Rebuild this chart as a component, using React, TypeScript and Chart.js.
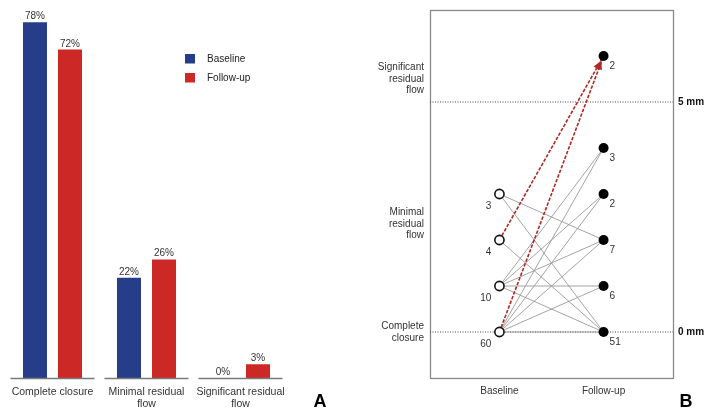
import React, { useEffect, useRef } from "react";
import { Chart, registerables } from "chart.js";

Chart.register(...registerables);

const FONT = "'Liberation Sans', Arial, Helvetica, sans-serif";

// ---------- Panel A data ----------
const categoryLines = [["Complete closure"], ["Minimal residual", "flow"], ["Significant residual", "flow"]];
const seriesNames = ["Baseline", "Follow-up"];
const baselinePct = [78, 22, 0];
const followUpPct = [72, 26, 3];
const seriesColors = ["#263e8a", "#cc2926"];

// ---------- Panel B data ----------
const levelLabels = [["Complete", "closure"], ["Minimal", "residual", "flow"], ["Significant", "residual", "flow"]];
const levelTickPos = [0, 2.35, 5.5];
const mmTicks = [0, 5];
const mmLabels = ["0 mm", "5 mm"];
const timeLabels = ["Baseline", "Follow-up"];
const timeX = [2, 5];
const baselineLevels = [3, 2, 1, 0];
const baselineCounts = [3, 4, 10, 60];
const followUpLevels = [6, 4, 3, 2, 1, 0];
const followUpCounts = [2, 3, 2, 7, 6, 51];
// [baseline level, follow-up level]
const transitions = [
  [3, 2], [3, 0], [2, 0],
  [1, 4], [1, 3], [1, 2], [1, 1], [1, 0],
  [0, 4], [0, 3], [0, 2], [0, 1], [0, 0],
];
const toSignificant = [[2, 6], [0, 6]];

const panelAPlugin = {
  id: "panelA",
  afterDatasetsDraw(chart: any) {
    const ctx = chart.ctx;
    const area = chart.chartArea;
    const xs = chart.scales.x;
    ctx.save();
    // separate baseline segments per category
    ctx.strokeStyle = "#7a7a7a";
    ctx.lineWidth = 1.3;
    categoryLines.forEach((_, i) => {
      const cx = xs.getPixelForValue(i);
      ctx.beginPath();
      ctx.moveTo(cx - 42, area.bottom + 0.5);
      ctx.lineTo(cx + 42, area.bottom + 0.5);
      ctx.stroke();
    });
    // value labels
    ctx.fillStyle = "#333";
    ctx.font = `10px ${FONT}`;
    ctx.textAlign = "center";
    ctx.textBaseline = "alphabetic";
    chart.data.datasets.forEach((ds: any, di: number) => {
      const meta = chart.getDatasetMeta(di);
      meta.data.forEach((el: any, j: number) => {
        ctx.fillText(`${ds.data[j]}%`, el.x, el.y - 3);
      });
    });
    // legend
    ctx.textAlign = "left";
    ctx.textBaseline = "middle";
    ctx.font = `10px ${FONT}`;
    chart.data.datasets.forEach((ds: any, di: number) => {
      const y = 54 + di * 19;
      ctx.fillStyle = ds.backgroundColor;
      ctx.fillRect(185, y, 10, 9.5);
      ctx.fillStyle = "#222";
      ctx.fillText(ds.label, 207, y + 5);
    });
    // panel letter
    ctx.fillStyle = "#000";
    ctx.font = `bold 18px ${FONT}`;
    ctx.textAlign = "center";
    ctx.textBaseline = "alphabetic";
    ctx.fillText("A", 320, 407);
    ctx.restore();
  },
};

const panelBPlugin = {
  id: "panelB",
  beforeDatasetsDraw(chart: any) {
    const { ctx, chartArea: a } = chart;
    ctx.save();
    ctx.strokeStyle = "#8a8a8a";
    ctx.lineWidth = 1.3;
    ctx.strokeRect(a.left + 0.5, a.top + 0.5, a.right - a.left, a.bottom - a.top);
    ctx.restore();
  },
  afterDatasetsDraw(chart: any) {
    const ctx = chart.ctx;
    ctx.save();
    // arrowheads
    chart.data.datasets.forEach((ds: any, di: number) => {
      if (!ds.arrow) return;
      const meta = chart.getDatasetMeta(di);
      const p0 = meta.data[0];
      const p1 = meta.data[1];
      const dx = p1.x - p0.x;
      const dy = p1.y - p0.y;
      const len = Math.hypot(dx, dy);
      const ux = dx / len;
      const uy = dy / len;
      const tipX = p1.x - ux * 6;
      const tipY = p1.y - uy * 6;
      const bx = tipX - ux * 8;
      const by = tipY - uy * 8;
      ctx.fillStyle = ds.borderColor;
      ctx.beginPath();
      ctx.moveTo(tipX, tipY);
      ctx.lineTo(bx - uy * 3.5, by + ux * 3.5);
      ctx.lineTo(bx + uy * 3.5, by - ux * 3.5);
      ctx.closePath();
      ctx.fill();
    });
    // counts
    ctx.fillStyle = "#333";
    ctx.font = `10px ${FONT}`;
    ctx.textBaseline = "middle";
    const fMeta = chart.getDatasetMeta(0);
    ctx.textAlign = "left";
    fMeta.data.forEach((el: any, j: number) => {
      ctx.fillText(String(followUpCounts[j]), el.x + 6, el.y + 10.5);
    });
    const bMeta = chart.getDatasetMeta(1);
    ctx.textAlign = "right";
    bMeta.data.forEach((el: any, j: number) => {
      ctx.fillText(String(baselineCounts[j]), el.x - 8, el.y + 12);
    });
    // panel letter
    ctx.fillStyle = "#000";
    ctx.font = `bold 18px ${FONT}`;
    ctx.textAlign = "center";
    ctx.textBaseline = "alphabetic";
    ctx.fillText("B", 336, 407);
    ctx.restore();
  },
};

export default function App() {
  const refA = useRef<HTMLCanvasElement>(null);
  const refB = useRef<HTMLCanvasElement>(null);

  useEffect(() => {
    const chartA = new Chart(refA.current as HTMLCanvasElement, {
      type: "bar",
      data: {
        labels: categoryLines as any,
        datasets: [
          {
            label: seriesNames[0],
            data: baselinePct,
            backgroundColor: seriesColors[0],
            categoryPercentage: 0.745,
            barPercentage: 0.686,
          },
          {
            label: seriesNames[1],
            data: followUpPct,
            backgroundColor: seriesColors[1],
            categoryPercentage: 0.745,
            barPercentage: 0.686,
          },
        ],
      },
      options: {
        responsive: false,
        animation: false,
        layout: { padding: { left: 5.5, right: 62.5, top: 13, bottom: 0 } },
        plugins: { legend: { display: false }, tooltip: { enabled: false } },
        scales: {
          x: {
            grid: { display: false, drawTicks: false },
            border: { display: false },
            ticks: {
              color: "#333",
              font: { family: FONT, size: 10.5, lineHeight: 1.15 },
              padding: 8,
              maxRotation: 0,
              autoSkip: false,
            },
            afterFit: (s: any) => {
              s.height = 32;
            },
          },
          y: { display: false, min: 0, max: 80 },
        },
      },
      plugins: [panelAPlugin],
    } as any);

    const lineDs = (pts: number[][], color: string, width: number, dash: number[], extra: any = {}) => ({
      data: pts.map(([x, y]) => ({ x, y })),
      showLine: true,
      pointRadius: 0,
      pointHoverRadius: 0,
      borderColor: color,
      backgroundColor: color,
      borderWidth: width,
      borderDash: dash,
      ...extra,
    });

    const noPad = (s: any) => {
      s.paddingTop = 0;
      s.paddingBottom = 0;
    };

    const chartB = new Chart(refB.current as HTMLCanvasElement, {
      type: "scatter",
      data: {
        datasets: [
          {
            label: timeLabels[1],
            data: followUpLevels.map((l) => ({ x: timeX[1], y: l })),
            pointRadius: 5,
            backgroundColor: "#000",
            borderColor: "#000",
            borderWidth: 0,
          },
          {
            label: timeLabels[0],
            data: baselineLevels.map((l) => ({ x: timeX[0], y: l })),
            pointRadius: 4.6,
            backgroundColor: "#fff",
            borderColor: "#111",
            borderWidth: 1.6,
          },
          ...toSignificant.map(([f, t]) =>
            lineDs([[timeX[0], f], [timeX[1], t]], "#b02a24", 1.6, [3.5, 1.5], { arrow: true })
          ),
          ...transitions.map(([f, t]) => lineDs([[timeX[0], f], [timeX[1], t]], "#9a9a9a", 0.9, [])),
          ...mmTicks.map((v) => lineDs([[0, v], [7, v]], "#444", 1, [1, 1.5])),
        ],
      },
      options: {
        responsive: false,
        animation: false,
        layout: { padding: { top: 10, left: 0, right: 0, bottom: 0 } },
        plugins: { legend: { display: false }, tooltip: { enabled: false } },
        scales: {
          x: {
            type: "linear",
            min: 0,
            max: 7,
            afterBuildTicks: (s: any) => {
              s.ticks = timeX.map((v) => ({ value: v }));
            },
            grid: { display: false, drawTicks: false },
            border: { display: false },
            ticks: {
              color: "#333",
              font: { family: FONT, size: 10 },
              padding: 7,
              maxRotation: 0,
              autoSkip: false,
              callback: (_v: any, i: number) => timeLabels[i],
            },
            afterFit: (s: any) => {
              s.height = 32;
              s.paddingLeft = 0;
              s.paddingRight = 0;
            },
          },
          y: {
            position: "left",
            min: -1,
            max: 7,
            afterBuildTicks: (s: any) => {
              s.ticks = levelTickPos.map((v) => ({ value: v }));
            },
            grid: { display: false, drawTicks: false },
            border: { display: false },
            ticks: {
              color: "#333",
              font: { family: FONT, size: 10, lineHeight: 1.15 },
              padding: 6,
              autoSkip: false,
              callback: (_v: any, i: number) => levelLabels[i],
            },
            afterFit: (s: any) => {
              s.width = 80;
              noPad(s);
            },
          },
          y2: {
            position: "right",
            min: -1,
            max: 7,
            afterBuildTicks: (s: any) => {
              s.ticks = mmTicks.map((v) => ({ value: v }));
            },
            grid: { display: false, drawTicks: false },
            border: { display: false },
            ticks: {
              color: "#111",
              font: { family: FONT, size: 10, weight: "bold" },
              padding: 5,
              autoSkip: false,
              callback: (_v: any, i: number) => mmLabels[i],
            },
            afterFit: (s: any) => {
              s.width = 33;
              noPad(s);
            },
          },
        },
      },
      plugins: [panelBPlugin],
    } as any);

    return () => {
      chartA.destroy();
      chartB.destroy();
    };
  }, []);

  return (
    <div style={{ position: "fixed", left: 0, top: 0, width: 706, height: 410, background: "#fff" }}>
      <canvas ref={refA} width={350} height={410} style={{ position: "absolute", left: 0, top: 0 }} />
      <canvas ref={refB} width={356} height={410} style={{ position: "absolute", left: 350, top: 0 }} />
    </div>
  );
}
